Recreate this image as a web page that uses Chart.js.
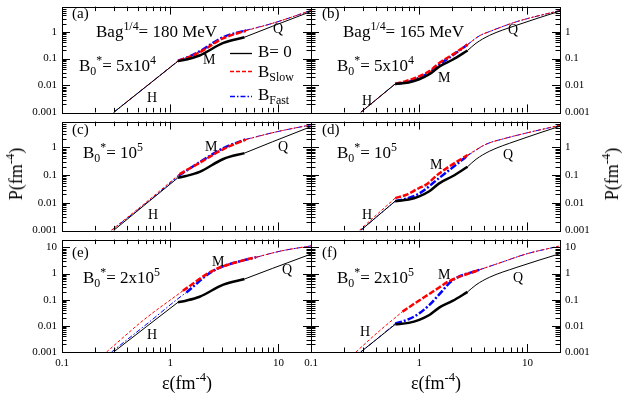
<!DOCTYPE html>
<html>
<head>
<meta charset="utf-8">
<script src="https://cdn.jsdelivr.net/npm/chart.js@4.4.0/dist/chart.umd.min.js"></script>
<style>
  html, body { margin: 0; padding: 0; background: #fff; }
  #wrap { position: relative; width: 623px; height: 395px; overflow: hidden; font-family: 'Liberation Serif', 'Times New Roman', serif; color: #000; }
  canvas { position: absolute; }
  .t { position: absolute; white-space: nowrap; line-height: 1; }
  .sup { font-size: 70%; position: relative; top: -0.6em; }
  .sub { font-size: 70%; position: relative; top: 0.35em; }
  .f18 { font-size: 18px; }
  .f17 { font-size: 17px; }
  .f15 { font-size: 15px; }
  .f14 { font-size: 14px; }
  .rot { transform: translate(-50%, -50%) rotate(-90deg); }
  .cx { transform: translateX(-50%); }
</style>
</head>
<body>
<div id="wrap">
  <canvas id="cA" width="318" height="129" style="left:0;top:-5px"></canvas>
  <canvas id="cB" width="324" height="129" style="left:299px;top:-5px"></canvas>
  <canvas id="cC" width="318" height="132" style="left:0;top:110px"></canvas>
  <canvas id="cD" width="324" height="132" style="left:299px;top:110px"></canvas>
  <canvas id="cE" width="318" height="167" style="left:0;top:228px"></canvas>
  <canvas id="cF" width="324" height="167" style="left:299px;top:228px"></canvas>

  <!-- panel (a) -->
  <div class="t f15" style="left:72px;top:6px">(a)</div>
  <div class="t f17" style="left:96px;top:23px">Bag<span class="sup">1/4</span>= 180 MeV</div>
  <div class="t f17" style="left:79px;top:57px">B<span class="sub">0</span><span class="sup">*</span>= 5x10<span class="sup">4</span></div>
  <div class="t f14" style="left:147px;top:91px">H</div>
  <div class="t f14" style="left:203px;top:53px">M</div>
  <div class="t f14" style="left:273px;top:22px">Q</div>
  <svg style="position:absolute;left:228px;top:44px" width="26" height="60">
    <line x1="2" y1="9.5" x2="24" y2="9.5" stroke="#000" stroke-width="1.3"/>
    <line x1="2" y1="27.5" x2="24" y2="27.5" stroke="#ff0000" stroke-width="1.3" stroke-dasharray="4,2"/>
    <line x1="2" y1="52.5" x2="24" y2="52.5" stroke="#0000ff" stroke-width="1.3" stroke-dasharray="5,2,1.5,2"/>
  </svg>
  <div class="t f17" style="left:258px;top:43px">B= 0</div>
  <div class="t f17" style="left:258px;top:63px">B<span class="sub">Slow</span></div>
  <div class="t f17" style="left:258px;top:86px">B<span class="sub">Fast</span></div>

  <!-- panel (b) -->
  <div class="t f15" style="left:322px;top:6px">(b)</div>
  <div class="t f17" style="left:343px;top:23px">Bag<span class="sup">1/4</span>= 165 MeV</div>
  <div class="t f17" style="left:337px;top:57px">B<span class="sub">0</span><span class="sup">*</span>= 5x10<span class="sup">4</span></div>
  <div class="t f14" style="left:362px;top:94px">H</div>
  <div class="t f14" style="left:438px;top:71px">M</div>
  <div class="t f14" style="left:508px;top:23px">Q</div>

  <!-- panel (c) -->
  <div class="t f15" style="left:72px;top:122px">(c)</div>
  <div class="t f17" style="left:83px;top:144px">B<span class="sub">0</span><span class="sup">*</span>= 10<span class="sup">5</span></div>
  <div class="t f14" style="left:148px;top:208px">H</div>
  <div class="t f14" style="left:205px;top:140px">M</div>
  <div class="t f14" style="left:278px;top:140px">Q</div>

  <!-- panel (d) -->
  <div class="t f15" style="left:322px;top:122px">(d)</div>
  <div class="t f17" style="left:337px;top:144px">B<span class="sub">0</span><span class="sup">*</span>= 10<span class="sup">5</span></div>
  <div class="t f14" style="left:362px;top:208px">H</div>
  <div class="t f14" style="left:430px;top:158px">M</div>
  <div class="t f14" style="left:503px;top:148px">Q</div>

  <!-- panel (e) -->
  <div class="t f15" style="left:72px;top:245px">(e)</div>
  <div class="t f17" style="left:83px;top:269px">B<span class="sub">0</span><span class="sup">*</span>= 2x10<span class="sup">5</span></div>
  <div class="t f14" style="left:147px;top:328px">H</div>
  <div class="t f14" style="left:212px;top:255px">M</div>
  <div class="t f14" style="left:282px;top:263px">Q</div>

  <!-- panel (f) -->
  <div class="t f15" style="left:322px;top:245px">(f)</div>
  <div class="t f17" style="left:337px;top:269px">B<span class="sub">0</span><span class="sup">*</span>= 2x10<span class="sup">5</span></div>
  <div class="t f14" style="left:360px;top:325px">H</div>
  <div class="t f14" style="left:438px;top:268px">M</div>
  <div class="t f14" style="left:513px;top:271px">Q</div>

  <!-- axis titles -->
  <div class="t f18 rot" style="left:16px;top:174px">P(fm<span class="sup">-4</span>)</div>
  <div class="t f18 rot" style="left:612px;top:174px">P(fm<span class="sup">-4</span>)</div>
  <div class="t f18 cx" style="left:187px;top:374px">ε(fm<span class="sup">-4</span>)</div>
  <div class="t f18 cx" style="left:436px;top:374px">ε(fm<span class="sup">-4</span>)</div>
</div>

<script>
// tick labels
const xMajor = [0.1, 1, 10];
const yMajor = [0.001, 0.01, 0.1, 1, 10];
const xMin = 0.1, xMax = 20;
const yMin = 0.001, yMaxTop = 8.5, yMaxBottom = 20;

// [epsilon, P] pairs, mixed phase bounds (epsilon)
// B = 0, Bag^1/4 = 180 MeV (left column)
const zeroL = [[0.30,0.001],[0.6,0.0092],[1.18,0.08],[1.4,0.092],[1.87,0.13],[3.1,0.38],[4.86,0.62],[8.87,1.6],[20,5.6]];
const zeroLMix = [1.18, 4.86];
// B = 0, Bag^1/4 = 165 MeV (right column)
const zeroR = [[0.288,0.001],[0.42,0.0035],[0.6,0.0114],[0.8,0.013],[1.0,0.017],[1.24,0.026],[1.53,0.05],[2.03,0.09],[2.8,0.2],[3.35,0.37],[4.45,0.72],[7.85,1.7],[20,5.8]];
const zeroRMix = [0.6, 2.8];

// (a)
const slowA = [[0.30,0.001],[0.6,0.0092],[1.18,0.0815],[1.5,0.115],[1.87,0.17],[3.07,0.56],[5.0,1.08],[8.87,2.05],[20,6.1]];
const slowAMix = [1.18, 5.0];
const fastA = [[0.30,0.001],[0.6,0.0092],[1.18,0.0815],[1.5,0.12],[1.87,0.185],[3.07,0.62],[5.0,1.12],[8.87,2.05],[20,6.1]];
const fastAMix = [1.18, 5.0];
// (b)
const slowB = [[0.288,0.001],[0.42,0.0035],[0.6,0.0114],[0.75,0.0145],[0.93,0.0194],[1.24,0.034],[1.53,0.068],[2.03,0.14],[2.8,0.33],[3.6,0.7],[4.45,1.0],[7.85,2.3],[20,6.1]];
const slowBMix = [0.6, 2.8];
const fastB = [[0.288,0.001],[0.42,0.0035],[0.6,0.0114],[0.75,0.013],[0.93,0.017],[1.24,0.03],[1.53,0.06],[2.03,0.13],[2.8,0.33],[3.6,0.7],[4.45,1.0],[7.85,2.3],[20,6.1]];
const fastBMix = [0.6, 2.8];
// (c)
const slowC = [[0.285,0.001],[0.65,0.0135],[1.22,0.108],[1.87,0.277],[3.07,0.85],[5.0,1.9],[9.5,3.6],[20,6.5]];
const slowCMix = [1.22, 5.0];
const fastC = [[0.287,0.001],[0.65,0.0125],[1.2,0.095],[1.87,0.29],[3.07,0.92],[5.0,1.95],[9.5,3.6],[20,6.5]];
const fastCMix = [1.2, 5.0];
// (d)
const slowD = [[0.28,0.001],[0.42,0.0042],[0.6,0.0147],[0.75,0.019],[1.0,0.034],[1.15,0.044],[1.53,0.114],[2.8,0.53],[4.14,1.29],[6.35,2.15],[20,6.3]];
const slowDMix = [0.6, 2.8];
const fastD = [[0.288,0.001],[0.42,0.0035],[0.6,0.0114],[0.8,0.015],[1.0,0.0215],[1.53,0.078],[2.8,0.5],[4.14,1.29],[6.35,2.15],[20,6.3]];
const fastDMix = [0.6, 2.8];
// (e)
const slowE = [[0.258,0.001],[0.58,0.018],[1.31,0.22],[2.48,1.3],[4.7,3.2],[6.2,4.2],[10.5,7.3],[20,11.5]];
const slowEMix = [1.31, 6.2];
const fastE = [[0.287,0.001],[0.647,0.0145],[1.18,0.11],[1.41,0.19],[2.48,1.25],[4.7,3.2],[6.2,4.2],[10.5,7.3],[20,11.5]];
const fastEMix = [1.41, 6.2];
// (f)
const slowF = [[0.26,0.001],[0.43,0.0065],[0.7,0.035],[1.0,0.094],[1.25,0.17],[1.53,0.295],[1.9,0.52],[3.6,1.4],[5.9,2.8],[9.7,5.6],[20,11.5]];
const slowFMix = [0.7, 3.6];
const fastF = [[0.288,0.001],[0.42,0.0035],[0.6,0.0122],[0.8,0.018],[1.0,0.03],[1.25,0.065],[1.53,0.16],[2.03,0.55],[3.6,1.4],[5.9,2.8],[9.7,5.6],[20,11.5]];
const fastFMix = [0.6, 3.6];

(function() {
    Chart.defaults.font.family = "'Liberation Serif', 'Times New Roman', serif";
    Chart.defaults.font.size = 11;
    Chart.defaults.color = '#000';

    function logTicks(min, max) {
        const out = [];
        for (let d = min; d < max * 1.001; d *= 10) {
            for (let m = 1; m < 10; m++) {
                const v = +(m * d).toPrecision(3);
                if (v <= max * 1.0001) out.push(v);
            }
        }
        if (out[out.length - 1] < max) out.push(max);
        return out;
    }

    const xTicks = logTicks(xMin, xMax);

    function isMajor(list, v) {
        return list.some(m => Math.abs(m - v) / m < 1e-6);
    }

    function phase(pts, lo, hi) {
        return pts.filter(p => p[0] >= lo - 1e-9 && p[0] <= hi + 1e-9).map(p => ({ x: p[0], y: p[1] }));
    }

    const styles = {
        zero: { color: '#000000', thin: [], thick: [] },
        slow: { color: '#ff0000', thin: [3, 2], thick: [6, 2] },
        fast: { color: '#0000ff', thin: [5, 2, 1.5, 2], thick: [7, 2, 2, 2] }
    };

    function curve(pts, mix, kind) {
        const st = styles[kind];
        const parts = [
            { data: phase(pts, 0, mix[0]), w: 1, dash: st.thin },
            { data: phase(pts, mix[0], mix[1]), w: 2.5, dash: st.thick },
            { data: phase(pts, mix[1], 1000), w: 1, dash: st.thin }
        ];
        return parts.map(p => ({
            data: p.data,
            borderColor: st.color,
            borderWidth: p.w,
            borderDash: p.dash,
            pointRadius: 0,
            fill: false,
            cubicInterpolationMode: 'monotone'
        }));
    }

    const framePlugin = {
        id: 'frame',
        afterDatasetsDraw(chart) {
            const { ctx, chartArea: a, scales } = chart;
            const x = scales.x, y = scales.y;
            const yTicks = logTicks(yMin, y.max);
            ctx.save();
            ctx.strokeStyle = '#000';
            ctx.lineWidth = 1;
            ctx.beginPath();
            xTicks.forEach(v => {
                if (v <= xMin || v >= xMax) return;
                const px = Math.round(x.getPixelForValue(v)) + 0.5;
                const len = isMajor(xMajor, v) ? 8 : 4.5;
                ctx.moveTo(px, a.bottom); ctx.lineTo(px, a.bottom - len);
                ctx.moveTo(px, a.top); ctx.lineTo(px, a.top + len);
            });
            yTicks.forEach(v => {
                if (v <= yMin || v >= y.max) return;
                const py = Math.round(y.getPixelForValue(v)) + 0.5;
                const len = isMajor(yMajor, v) ? 8 : 4.5;
                ctx.moveTo(a.left, py); ctx.lineTo(a.left + len, py);
                ctx.moveTo(a.right, py); ctx.lineTo(a.right - len, py);
            });
            ctx.stroke();
            ctx.strokeRect(Math.round(a.left) + 0.5, Math.round(a.top) + 0.5, Math.round(a.width), Math.round(a.height));
            ctx.restore();
        }
    };

    function makeChart(id, col, row, sets) {
        const yMax = row === 2 ? yMaxBottom : yMaxTop;
        const datasets = [];
        sets.forEach(s => datasets.push(...curve(s[0], s[1], s[2])));
        new Chart(document.getElementById(id), {
            type: 'line',
            data: { datasets: datasets },
            plugins: [framePlugin],
            options: {
                responsive: false,
                animation: false,
                events: [],
                layout: {
                    padding: {
                        left: col === 0 ? 0 : 12,
                        right: col === 0 ? 7 : 0,
                        top: 7,
                        bottom: row === 2 ? 0 : 7
                    }
                },
                plugins: { legend: { display: false }, tooltip: { enabled: false } },
                scales: {
                    x: {
                        type: 'logarithmic',
                        min: xMin, max: xMax,
                        display: row === 2,
                        grid: { display: false, drawTicks: false },
                        border: { display: false },
                        afterBuildTicks: s => { s.ticks = xTicks.map(v => ({ value: v })); },
                        afterFit: s => { s.height = row === 2 ? 43 : 0; },
                        ticks: {
                            autoSkip: false, maxRotation: 0, padding: 5,
                            callback: v => isMajor(xMajor, v) ? String(v) : ''
                        }
                    },
                    y: {
                        type: 'logarithmic',
                        position: col === 0 ? 'left' : 'right',
                        min: yMin, max: yMax,
                        grid: { display: false, drawTicks: false },
                        border: { display: false },
                        afterBuildTicks: s => { s.ticks = logTicks(yMin, yMax).map(v => ({ value: v })); },
                        afterFit: s => { s.width = col === 0 ? 62 : 63; },
                        ticks: {
                            autoSkip: false, padding: 5,
                            callback: v => isMajor(yMajor, v) ? String(v) : ''
                        }
                    }
                }
            }
        });
    }

    function init() {
        makeChart('cA', 0, 0, [[zeroL, zeroLMix, 'zero'], [slowA, slowAMix, 'slow'], [fastA, fastAMix, 'fast']]);
        makeChart('cB', 1, 0, [[zeroR, zeroRMix, 'zero'], [slowB, slowBMix, 'slow'], [fastB, fastBMix, 'fast']]);
        makeChart('cC', 0, 1, [[zeroL, zeroLMix, 'zero'], [slowC, slowCMix, 'slow'], [fastC, fastCMix, 'fast']]);
        makeChart('cD', 1, 1, [[zeroR, zeroRMix, 'zero'], [slowD, slowDMix, 'slow'], [fastD, fastDMix, 'fast']]);
        makeChart('cE', 0, 2, [[zeroL, zeroLMix, 'zero'], [slowE, slowEMix, 'slow'], [fastE, fastEMix, 'fast']]);
        makeChart('cF', 1, 2, [[zeroR, zeroRMix, 'zero'], [slowF, slowFMix, 'slow'], [fastF, fastFMix, 'fast']]);
    }

    init();
})();
</script>
</body>
</html>
